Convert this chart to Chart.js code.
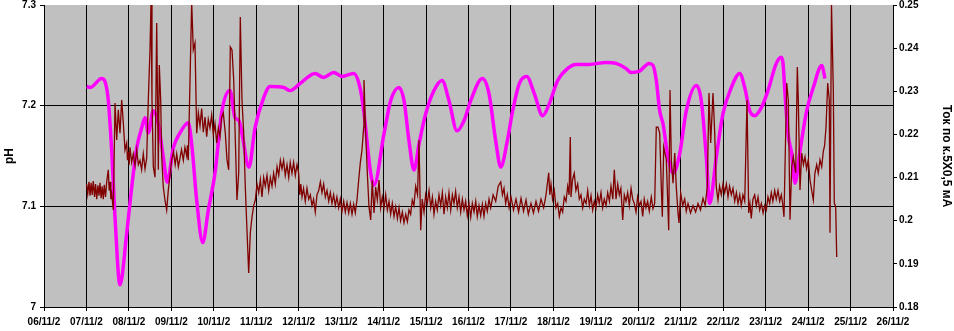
<!DOCTYPE html>
<html>
<head>
<meta charset="utf-8">
<script src="https://cdn.jsdelivr.net/npm/chart.js@4/dist/chart.umd.min.js"></script>
<style>
  html, body { margin: 0; padding: 0; background: #fff; }
  #wrap { width: 954px; height: 331px; }
</style>
</head>
<body>
<div id="wrap"><canvas id="myChart" width="954" height="331"></canvas></div>
<script>
const dateLabels = ['06/11/2', '07/11/2', '08/11/2', '09/11/2', '10/11/2', '11/11/2', '12/11/2',
    '13/11/2', '14/11/2', '15/11/2', '16/11/2', '17/11/2', '18/11/2', '19/11/2', '20/11/2',
    '21/11/2', '22/11/2', '23/11/2', '24/11/2', '25/11/2', '26/11/2'];

// pH series (magenta), days since 06/11
const phDays = [1.006, 1.084, 1.359, 1.508, 1.595, 1.673, 1.790, 1.948, 2.066, 2.184, 2.302, 2.379,
    2.457, 2.575, 2.693, 2.810, 2.905, 3.046, 3.204, 3.399, 3.479, 3.597, 3.739, 3.870, 4.028,
    4.193, 4.382, 4.499, 4.594, 4.664, 4.829, 4.971, 5.176, 5.324, 5.647, 5.795, 6.031, 6.384,
    6.589, 6.825, 7.020, 7.296, 7.444, 7.531, 7.696, 7.774, 8.009, 8.167, 8.363, 8.481, 8.598,
    8.716, 8.834, 8.992, 9.187, 9.376, 9.541, 9.729, 9.894, 10.052, 10.325, 10.483, 10.641,
    10.759, 10.914, 11.041, 11.197, 11.371, 11.550, 11.748, 11.904, 12.101, 12.337, 12.532,
    12.839, 13.239, 13.475, 13.710, 13.828, 14.017, 14.252, 14.346, 14.424, 14.504, 14.582,
    14.700, 14.818, 14.975, 15.131, 15.366, 15.484, 15.602, 15.682, 15.837, 15.995, 16.191,
    16.389, 16.507, 16.624, 16.742, 16.898, 17.055, 17.251, 17.369, 17.409, 17.456, 17.527,
    17.614, 17.691, 17.809, 17.967, 18.123, 18.321, 18.398];
const phValues = [7.219, 7.218, 7.227, 7.208, 7.155, 7.089, 7.022, 7.073, 7.119, 7.158, 7.178, 7.188,
    7.173, 7.195, 7.182, 7.149, 7.124, 7.158, 7.173, 7.183, 7.162, 7.106, 7.064, 7.096, 7.133,
    7.195, 7.215, 7.188, 7.185, 7.172, 7.139, 7.178, 7.208, 7.219, 7.218, 7.215, 7.222, 7.232,
    7.228, 7.233, 7.229, 7.232, 7.218, 7.195, 7.133, 7.121, 7.172, 7.205, 7.218, 7.205, 7.165,
    7.136, 7.162, 7.192, 7.215, 7.225, 7.205, 7.175, 7.185, 7.205, 7.227, 7.212, 7.165,
    7.139, 7.165, 7.195, 7.222, 7.229, 7.212, 7.190, 7.202, 7.225, 7.237, 7.241,
    7.241, 7.243, 7.242, 7.237, 7.233, 7.234, 7.242, 7.240, 7.225, 7.195, 7.182,
    7.149, 7.133, 7.152, 7.195, 7.220, 7.205, 7.149, 7.103, 7.149, 7.192, 7.218,
    7.232, 7.218, 7.195, 7.190, 7.198, 7.215, 7.242, 7.248, 7.242, 7.212, 7.172,
    7.152, 7.123, 7.155, 7.195, 7.218, 7.240, 7.227];

// current series (dark red): [day since 06/11, mA]
const curSamples = [
    [1.006, 0.2085], [1.03, 0.2062], [1.06, 0.2090], [1.084, 0.2058], [1.11, 0.2088], [1.135, 0.2060],
    [1.161, 0.2092], [1.19, 0.2055], [1.215, 0.2085], [1.241, 0.2050], [1.27, 0.2082], [1.295, 0.2058],
    [1.319, 0.2088], [1.345, 0.2052], [1.37, 0.2080], [1.397, 0.2050], [1.42, 0.2083], [1.45, 0.2055],
    [1.477, 0.2090], [1.515, 0.2118], [1.535, 0.2070], [1.555, 0.2090], [1.575, 0.2050], [1.595, 0.2062],
    [1.633, 0.2025], [1.673, 0.2273], [1.713, 0.2187], [1.750, 0.2257], [1.790, 0.2203], [1.830, 0.2280],
    [1.868, 0.2227], [1.908, 0.2164], [1.948, 0.2180], [1.967, 0.2140], [1.986, 0.2160], [2.006, 0.2130],
    [2.026, 0.2170], [2.065, 0.2135], [2.104, 0.2155], [2.144, 0.2128], [2.184, 0.2165], [2.222, 0.2130],
    [2.261, 0.2140], [2.30, 0.2118], [2.339, 0.2155], [2.38, 0.2120], [2.419, 0.2145], [2.457, 0.2280],
    [2.497, 0.2396], [2.521, 0.2505], [2.544, 0.2280], [2.575, 0.2125], [2.615, 0.2101], [2.655, 0.2458],
    [2.693, 0.2118], [2.716, 0.2361], [2.749, 0.2280], [2.773, 0.2148], [2.810, 0.2078], [2.850, 0.2048],
    [2.890, 0.2025], [2.928, 0.2071], [3.008, 0.2141], [3.05, 0.2160], [3.09, 0.2130], [3.126, 0.2155],
    [3.165, 0.2125], [3.204, 0.2145], [3.24, 0.2165], [3.282, 0.2140], [3.32, 0.2170], [3.362, 0.2150],
    [3.38, 0.2175], [3.399, 0.2140], [3.479, 0.2505], [3.517, 0.2396], [3.557, 0.2412], [3.597, 0.2203],
    [3.636, 0.2250], [3.675, 0.2220], [3.714, 0.2260], [3.753, 0.2205], [3.793, 0.2240], [3.833, 0.2195],
    [3.87, 0.2235], [3.910, 0.2215], [3.95, 0.2245], [3.988, 0.2200], [4.028, 0.2225], [4.068, 0.2180],
    [4.107, 0.2215], [4.146, 0.2195], [4.185, 0.2240], [4.224, 0.2250], [4.271, 0.2203], [4.311, 0.2141],
    [4.351, 0.2118], [4.389, 0.2403], [4.429, 0.2396], [4.469, 0.2326], [4.507, 0.2187], [4.546, 0.2048],
    [4.587, 0.2111], [4.624, 0.2472], [4.664, 0.2280], [4.704, 0.2203], [4.742, 0.2078], [4.782, 0.1978],
    [4.822, 0.1879], [4.860, 0.1972], [4.900, 0.2009], [4.94, 0.2035], [4.978, 0.2048], [5.018, 0.2085],
    [5.058, 0.2065], [5.097, 0.2095], [5.135, 0.2055], [5.174, 0.2100], [5.213, 0.2080], [5.253, 0.2105],
    [5.293, 0.2070], [5.332, 0.2100], [5.371, 0.2080], [5.41, 0.2110], [5.449, 0.2085], [5.49, 0.2125],
    [5.529, 0.2105], [5.568, 0.2140], [5.607, 0.2120], [5.645, 0.2140], [5.684, 0.2105], [5.725, 0.2130],
    [5.765, 0.2100], [5.80, 0.2135], [5.842, 0.2110], [5.88, 0.2135], [5.920, 0.2105], [5.96, 0.2130],
    [6.000, 0.2110], [6.024, 0.2060], [6.05, 0.2085], [6.078, 0.2055], [6.115, 0.2075], [6.155, 0.2045],
    [6.195, 0.2075], [6.236, 0.2050], [6.275, 0.2060], [6.313, 0.2035], [6.35, 0.2050], [6.391, 0.2020],
    [6.43, 0.2060], [6.471, 0.2070], [6.51, 0.2090], [6.549, 0.2065], [6.588, 0.2085], [6.627, 0.2055],
    [6.667, 0.2070], [6.707, 0.2045], [6.745, 0.2065], [6.784, 0.2040], [6.823, 0.2060], [6.862, 0.2035],
    [6.90, 0.2055], [6.942, 0.2030], [6.98, 0.2050], [7.020, 0.2022], [7.06, 0.2045], [7.098, 0.2020],
    [7.138, 0.2042], [7.178, 0.2018], [7.217, 0.2040], [7.256, 0.2015], [7.295, 0.2038], [7.333, 0.2018],
    [7.373, 0.2048], [7.413, 0.2094], [7.451, 0.2134], [7.491, 0.2164], [7.531, 0.2217], [7.538, 0.2326],
    [7.578, 0.2203], [7.616, 0.2111], [7.656, 0.2032], [7.696, 0.2002], [7.733, 0.2094], [7.774, 0.2018],
    [7.814, 0.2078], [7.852, 0.2048], [7.892, 0.2094], [7.93, 0.2030], [7.969, 0.2055], [8.01, 0.2030],
    [8.049, 0.2060], [8.088, 0.2025], [8.127, 0.2045], [8.166, 0.2015], [8.205, 0.2040], [8.245, 0.2010],
    [8.285, 0.2032], [8.325, 0.2005], [8.363, 0.2030], [8.40, 0.2000], [8.441, 0.2020], [8.48, 0.1995],
    [8.521, 0.2015], [8.56, 0.1998], [8.598, 0.2025], [8.637, 0.2015], [8.676, 0.2048], [8.715, 0.2035],
    [8.756, 0.2080], [8.80, 0.2060], [8.834, 0.2187], [8.874, 0.1978], [8.91, 0.2050], [8.952, 0.2020],
    [8.99, 0.2060], [9.029, 0.2040], [9.07, 0.2070], [9.110, 0.2030], [9.15, 0.2055], [9.187, 0.2015],
    [9.226, 0.2045], [9.265, 0.2025], [9.305, 0.2060], [9.345, 0.2035], [9.384, 0.2065], [9.423, 0.2015],
    [9.462, 0.2055], [9.501, 0.2030], [9.54, 0.2065], [9.581, 0.2025], [9.62, 0.2060], [9.658, 0.2040],
    [9.697, 0.2068], [9.736, 0.2030], [9.776, 0.2055], [9.816, 0.2020], [9.855, 0.2050], [9.894, 0.2025],
    [9.933, 0.2045], [9.972, 0.2012], [10.012, 0.2040], [10.052, 0.2008], [10.09, 0.2040], [10.130, 0.2020],
    [10.17, 0.2045], [10.207, 0.2010], [10.247, 0.2035], [10.287, 0.2012], [10.326, 0.2038], [10.365, 0.2010],
    [10.404, 0.2040], [10.443, 0.2022], [10.483, 0.2050], [10.523, 0.2030], [10.58, 0.2060], [10.641, 0.2045],
    [10.70, 0.2080], [10.759, 0.2090], [10.80, 0.2060], [10.836, 0.2075], [10.875, 0.2040], [10.914, 0.2060],
    [10.957, 0.2030], [11.001, 0.2055], [11.06, 0.2025], [11.119, 0.2050], [11.18, 0.2020], [11.237, 0.2052],
    [11.296, 0.2022], [11.355, 0.2048], [11.41, 0.2015], [11.472, 0.2040], [11.53, 0.2018], [11.590, 0.2045],
    [11.65, 0.2022], [11.708, 0.2050], [11.77, 0.2030], [11.826, 0.2060], [11.889, 0.2111], [11.915, 0.2060],
    [11.943, 0.2085], [11.98, 0.2050], [12.021, 0.2070], [12.06, 0.2030], [12.101, 0.2040], [12.14, 0.2010],
    [12.179, 0.2030], [12.218, 0.2020], [12.257, 0.2055], [12.297, 0.2045], [12.337, 0.2080], [12.37, 0.2060],
    [12.398, 0.2194], [12.415, 0.2055], [12.45, 0.2095], [12.492, 0.2110], [12.53, 0.2070], [12.572, 0.2085],
    [12.61, 0.2050], [12.650, 0.2060], [12.69, 0.2030], [12.728, 0.2050], [12.77, 0.2040], [12.808, 0.2070],
    [12.847, 0.2035], [12.886, 0.2058], [12.925, 0.2025], [12.963, 0.2045], [13.003, 0.2030], [13.043, 0.2060],
    [13.08, 0.2040], [13.121, 0.2065], [13.16, 0.2030], [13.199, 0.2050], [13.24, 0.2035], [13.279, 0.2065],
    [13.32, 0.2045], [13.357, 0.2080], [13.40, 0.2050], [13.435, 0.2118], [13.475, 0.2050], [13.515, 0.2085],
    [13.553, 0.2060], [13.59, 0.2075], [13.633, 0.2002], [13.67, 0.2060], [13.710, 0.2045], [13.75, 0.2065],
    [13.788, 0.2035], [13.83, 0.2075], [13.868, 0.2050], [13.905, 0.2040], [13.946, 0.2020], [13.985, 0.2055],
    [14.024, 0.2035], [14.064, 0.2045], [14.104, 0.2010], [14.14, 0.2050], [14.181, 0.2030], [14.22, 0.2045],
    [14.259, 0.2022], [14.306, 0.2055], [14.346, 0.2028], [14.386, 0.2040], [14.424, 0.2217], [14.464, 0.2217],
    [14.504, 0.2203], [14.542, 0.2078], [14.566, 0.2009], [14.598, 0.2171], [14.660, 0.2141], [14.716, 0.1978],
    [14.747, 0.2303], [14.778, 0.2141], [14.818, 0.2087], [14.858, 0.2157], [14.895, 0.2078], [14.935, 0.2018],
    [14.959, 0.1995], [14.999, 0.2064], [15.046, 0.2035], [15.093, 0.2050], [15.13, 0.2022], [15.171, 0.2040],
    [15.23, 0.2018], [15.289, 0.2035], [15.35, 0.2020], [15.406, 0.2040], [15.465, 0.2025], [15.524, 0.2052],
    [15.575, 0.2035], [15.625, 0.2078], [15.665, 0.2296], [15.705, 0.2180], [15.760, 0.2296], [15.800, 0.2203],
    [15.837, 0.2078], [15.877, 0.2048], [15.915, 0.2080], [15.955, 0.2060], [15.995, 0.2085], [16.035, 0.2065],
    [16.075, 0.2085], [16.113, 0.2055], [16.15, 0.2080], [16.191, 0.2060], [16.23, 0.2075], [16.271, 0.2045],
    [16.31, 0.2065], [16.349, 0.2040], [16.39, 0.2060], [16.426, 0.2035], [16.465, 0.2060], [16.507, 0.2045],
    [16.561, 0.2280], [16.601, 0.2018], [16.63, 0.2040], [16.662, 0.2005], [16.70, 0.2050], [16.742, 0.2060],
    [16.78, 0.2035], [16.820, 0.2055], [16.86, 0.2025], [16.898, 0.2040], [16.94, 0.2018], [16.978, 0.2035],
    [17.015, 0.2025], [17.055, 0.2055], [17.095, 0.2040], [17.133, 0.2065], [17.17, 0.2045], [17.213, 0.2070],
    [17.25, 0.2050], [17.291, 0.2070], [17.33, 0.2045], [17.369, 0.2060], [17.40, 0.2040], [17.432, 0.2009],
    [17.496, 0.2319], [17.534, 0.2280], [17.574, 0.2002], [17.614, 0.2125], [17.651, 0.2148], [17.708, 0.2111],
    [17.746, 0.2356], [17.769, 0.2280], [17.809, 0.2071], [17.849, 0.2157], [17.89, 0.2130], [17.927, 0.2148],
    [17.965, 0.2120], [18.004, 0.2141], [18.045, 0.2094], [18.085, 0.2070], [18.123, 0.2048], [18.16, 0.2110],
    [18.203, 0.2130], [18.24, 0.2110], [18.280, 0.2141], [18.32, 0.2125], [18.358, 0.2160], [18.39, 0.2175],
    [18.422, 0.2217], [18.462, 0.2319], [18.499, 0.2280], [18.516, 0.1972], [18.551, 0.2500], [18.594, 0.2303],
    [18.617, 0.2041], [18.650, 0.2032], [18.674, 0.1916]
];

const phTicks = [7, 7.1, 7.2, 7.3];
const curTicks = [0.18, 0.19, 0.2, 0.21, 0.22, 0.23, 0.24, 0.25];

const phPoints = phDays.map((d, i) => ({x: d, y: phValues[i]}));
const curPoints = curSamples.map(s => ({x: s[0], y: s[1]}));

const plotBg = {
    id: 'plotBg',
    beforeDraw(chart) {
        const a = chart.chartArea;
        const c = chart.ctx;
        c.save();
        c.fillStyle = '#c0c0c0';
        c.fillRect(a.left, a.top, a.right - a.left, a.bottom - a.top);
        c.restore();
    }
};

const tickFont = {family: 'Arial, "Liberation Sans"', size: 10, weight: 'bold'};
const titleFont = {family: 'Arial, "Liberation Sans"', size: 12, weight: 'bold'};

// keep the plot box at the same place as in the picture
function fitY(width) {
    return (scale) => {
        scale.width = width;
        scale.paddingTop = 5;
        scale.paddingBottom = 0;
    };
}

const ctx = document.getElementById('myChart').getContext('2d');
const myChart = new Chart(ctx, {
    type: 'line',
    data: {
        datasets: [
            {
                label: 'Ток',
                data: curPoints,
                yAxisID: 'yCur',
                borderColor: '#800000',
                borderWidth: 1.3,
                pointRadius: 0,
                tension: 0
            },
            {
                label: 'pH',
                data: phPoints,
                yAxisID: 'yPh',
                borderColor: '#ff00ff',
                borderWidth: 3.5,
                pointRadius: 0,
                cubicInterpolationMode: 'monotone'
            }
        ]
    },
    options: {
        responsive: false,
        animation: false,
        layout: {padding: 0},
        plugins: {
            legend: {display: false},
            tooltip: {enabled: false}
        },
        scales: {
            x: {
                type: 'linear',
                min: 0,
                max: 20,
                afterFit(scale) {
                    scale.height = 24;
                    scale.paddingLeft = 0;
                    scale.paddingRight = 0;
                },
                afterBuildTicks(scale) {
                    scale.ticks = dateLabels.map((l, i) => ({value: i}));
                },
                ticks: {
                    color: '#000',
                    font: tickFont,
                    padding: 5,
                    maxRotation: 0,
                    autoSkip: false,
                    callback: (v) => dateLabels[v]
                },
                grid: {
                    color: '#000',
                    lineWidth: 1,
                    tickLength: 4
                },
                border: {color: '#000', width: 1}
            },
            yPh: {
                type: 'linear',
                position: 'left',
                min: 7,
                max: 7.3,
                afterFit: fitY(44),
                afterBuildTicks(scale) {
                    scale.ticks = phTicks.map(v => ({value: v}));
                },
                ticks: {
                    color: '#000',
                    font: tickFont,
                    padding: 4,
                    callback: (v) => String(Math.round(v * 10) / 10)
                },
                grid: {
                    color: (c) => (c.tick && (Math.abs(c.tick.value - 7.1) < 1e-6 || Math.abs(c.tick.value - 7.2) < 1e-6)) ? '#000' : 'rgba(0,0,0,0)',
                    tickColor: '#000',
                    tickLength: 4
                },
                border: {color: '#000', width: 1},
                title: {
                    display: true,
                    text: 'pH',
                    color: '#000',
                    font: titleFont,
                    padding: {top: 2, bottom: 0}
                }
            },
            yCur: {
                type: 'linear',
                position: 'right',
                min: 0.18,
                max: 0.25,
                afterFit: fitY(61),
                afterBuildTicks(scale) {
                    scale.ticks = curTicks.map(v => ({value: v}));
                },
                ticks: {
                    color: '#000',
                    font: tickFont,
                    padding: 2,
                    callback: (v) => String(Math.round(v * 100) / 100)
                },
                grid: {
                    drawOnChartArea: false,
                    color: '#000',
                    tickLength: 4
                },
                border: {color: '#000', width: 1},
                title: {
                    display: true,
                    text: 'Ток по к.5X0,5 мА',
                    color: '#000',
                    font: titleFont,
                    padding: {top: 0, bottom: 4}
                }
            }
        }
    },
    plugins: [plotBg]
});
</script>
</body>
</html>
